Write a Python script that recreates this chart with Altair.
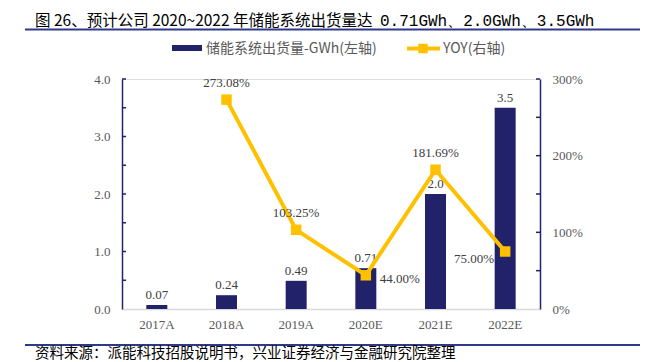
import altair as alt
import pandas as pd

years = ["2017A", "2018A", "2019A", "2020E", "2021E", "2022E"]
shipments = [0.07, 0.24, 0.49, 0.71, 2.0, 3.5]
shipment_labels = ["0.07", "0.24", "0.49", "0.71", "2.0", "3.5"]
yoy_years = ["2018A", "2019A", "2020E", "2021E", "2022E"]
yoy = [273.08, 103.25, 44.00, 181.69, 75.00]
yoy_labels = ["273.08%", "103.25%", "44.00%", "181.69%", "75.00%"]
left_ticks = [0, 0.5, 1.0, 1.5, 2.0, 2.5, 3.0, 3.5, 4.0]
right_ticks = [0, 50, 100, 150, 200, 250, 300]

title_a = "图 26、预计公司 2020~2022 年储能系统出货量达"
title_b = "0.71GWh、2.0GWh、3.5GWh"
source_text = "资料来源：派能科技招股说明书，兴业证券经济与金融研究院整理"
legend_bar = "储能系统出货量-GWh(左轴)"
legend_line = "YOY(右轴)"

NAVY = "#22226B"
GOLD = "#FFC000"
SERIF = "Liberation Serif"
CJK = "Noto Sans CJK SC"
W, H = 418, 230

bar_df = pd.DataFrame({"year": years, "v": shipments, "lab": shipment_labels})
yoy_df = pd.DataFrame({"year": yoy_years, "v": yoy, "lab": yoy_labels})
yoy_df["pos"] = ["top", "top", "right", "top", "left"]

xenc = alt.X("year:N", sort=years, title=None,
             scale=alt.Scale(domain=years, paddingInner=0.7, paddingOuter=0.35),
             axis=alt.Axis(labelAngle=0, labelFont=SERIF, labelFontSize=13, labelColor="#595959",
                           ticks=False, domainColor="#D9D9D9", domainWidth=1.5, labelPadding=9))

lscale = alt.Scale(domain=[0, 4], nice=False, zero=True)
rscale = alt.Scale(domain=[0, 300], nice=False, zero=True)

bars = alt.Chart(bar_df).mark_bar(color=NAVY, size=21).encode(
    x=xenc,
    y=alt.Y("v:Q", scale=lscale, title=None,
            axis=alt.Axis(values=left_ticks, format=".1f", orient="left", grid=False,
                          domainColor=NAVY, domainWidth=1.5, tickSize=0, labelPadding=12,
                          labelFont=SERIF, labelFontSize=13, labelColor="#595959")))
bar_text = alt.Chart(bar_df).mark_text(font=SERIF, fontSize=13, color="#404040", dy=-10).encode(
    x=alt.X("year:N", sort=years), y=alt.Y("v:Q", scale=lscale), text="lab:N")
lt_df = pd.DataFrame({"t": left_ticks[1:]})
left_tk = alt.Chart(lt_df).mark_rule(color=NAVY, strokeWidth=1.5).encode(
    y=alt.Y("t:Q", scale=lscale), x=alt.value(0), x2=alt.value(4))
left = alt.layer(bars, bar_text, left_tk)

line = alt.Chart(yoy_df).mark_line(color=GOLD, strokeWidth=4).encode(
    x=alt.X("year:N", sort=years),
    y=alt.Y("v:Q", scale=rscale, title=None,
            axis=alt.Axis(values=right_ticks, labelExpr="datum.value + '%'", orient="right", grid=False,
                          domainColor=NAVY, domainWidth=1.5, tickSize=0, labelPadding=12,
                          labelFont=SERIF, labelFontSize=13, labelColor="#595959")))
pts = alt.Chart(yoy_df).mark_point(shape="square", filled=True, opacity=1, color=GOLD, size=110).encode(
    x=alt.X("year:N", sort=years), y=alt.Y("v:Q", scale=rscale))
t_top = alt.Chart(yoy_df).transform_filter("datum.pos == 'top'").mark_text(
    font=SERIF, fontSize=13, color="#404040", dy=-17).encode(
    x=alt.X("year:N", sort=years), y=alt.Y("v:Q", scale=rscale), text="lab:N")
t_right = alt.Chart(yoy_df).transform_filter("datum.pos == 'right'").mark_text(
    font=SERIF, fontSize=13, color="#404040", align="left", dx=14, dy=4).encode(
    x=alt.X("year:N", sort=years), y=alt.Y("v:Q", scale=rscale), text="lab:N")
t_left = alt.Chart(yoy_df).transform_filter("datum.pos == 'left'").mark_text(
    font=SERIF, fontSize=13, color="#404040", align="right", dx=-11, dy=7).encode(
    x=alt.X("year:N", sort=years), y=alt.Y("v:Q", scale=rscale), text="lab:N")
rt_df = pd.DataFrame({"t": right_ticks[1:]})
right_tk = alt.Chart(rt_df).mark_rule(color=NAVY, strokeWidth=1.5).encode(
    y=alt.Y("t:Q", scale=rscale), x=alt.value(W - 4), x2=alt.value(W))
right = alt.layer(line, pts, t_top, t_right, t_left, right_tk)

one = pd.DataFrame({"t": [0]})
title1 = alt.Chart(pd.DataFrame({"t": [title_a]})).mark_text(
    font=CJK, fontSize=15.5, color="#000000", align="left", baseline="middle").encode(
    text="t:N", x=alt.value(-87), y=alt.value(-58.5))
title2 = alt.Chart(pd.DataFrame({"t": [title_b]})).mark_text(
    font="Liberation Mono", fontSize=16, color="#000000", align="left", baseline="middle").encode(
    text="t:N", x=alt.value(258), y=alt.value(-58.5))
top_rule = alt.Chart(one).mark_rule(color="#2E3A87", strokeWidth=2).encode(
    x=alt.value(-97), x2=alt.value(533), y=alt.value(-49.5))
bot_rule = alt.Chart(one).mark_rule(color="#2E3A87", strokeWidth=2).encode(
    x=alt.value(-97), x2=alt.value(533), y=alt.value(266))
source = alt.Chart(pd.DataFrame({"t": [source_text]})).mark_text(
    font=CJK, fontSize=14.5, color="#000000", align="left", baseline="middle").encode(
    text="t:N", x=alt.value(-87), y=alt.value(274.5))
leg_sw = alt.Chart(one).mark_rect(color=NAVY).encode(
    x=alt.value(50), x2=alt.value(80), y=alt.value(-34), y2=alt.value(-28))
leg_t1 = alt.Chart(pd.DataFrame({"t": [legend_bar]})).mark_text(
    font=CJK, fontSize=14, color="#595959", align="left", baseline="middle").encode(
    text="t:N", x=alt.value(84), y=alt.value(-30.5))
leg_ln = alt.Chart(one).mark_rule(color=GOLD, strokeWidth=4).encode(
    x=alt.value(285), x2=alt.value(318), y=alt.value(-30.5))
leg_pt = alt.Chart(one).mark_point(shape="square", filled=True, opacity=1, color=GOLD, size=90).encode(
    x=alt.value(301), y=alt.value(-30.5))
leg_t2 = alt.Chart(pd.DataFrame({"t": [legend_line]})).mark_text(
    font=CJK, fontSize=14, color="#595959", align="left", baseline="middle").encode(
    text="t:N", x=alt.value(321), y=alt.value(-30.5))

deco = alt.layer(title1, title2, top_rule, bot_rule, source, leg_sw, leg_t1, leg_ln, leg_pt, leg_t2)

chart = alt.layer(left, right, deco).resolve_scale(y="independent").properties(
    width=W, height=H,
    autosize=alt.AutoSizeParams(type="none"),
    padding={"left": 114, "top": 71, "right": 100, "bottom": 52},
).configure_view(stroke=None).configure(background="white")

chart.save("out.html", embed_options={"renderer": "svg", "actions": False})
